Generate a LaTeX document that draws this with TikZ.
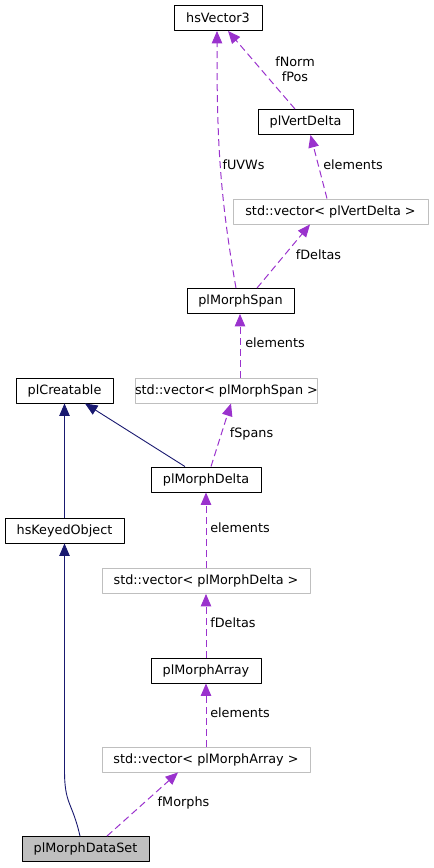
\documentclass[tikz,border=0pt]{standalone}
\usepackage{fontspec}
\setmainfont{DejaVu Sans}
\usetikzlibrary{arrows.meta}
\definecolor{depcol}{HTML}{9A32CD}
\definecolor{inhcol}{HTML}{191970}
\definecolor{vecgray}{HTML}{BFBFBF}

\begin{document}
\begin{tikzpicture}[x=1pt, y=1pt, line join=round,
  font=\fontsize{12.8}{15}\selectfont,
  cls/.style={draw=black, line width=0.9pt, minimum height=25pt, inner sep=0pt},
  vec/.style={draw=vecgray, line width=0.9pt, minimum height=25pt, inner sep=0pt},
  dep/.style={depcol, line width=1pt, dash pattern=on 7pt off 4pt, -{Triangle[length=12.5pt,width=10.5pt]}},
  inh/.style={inhcol, line width=0.9pt, -{Triangle[length=12.5pt,width=10.5pt]}},
  lbl/.style={inner sep=0pt, text height=9pt, text depth=2.5pt}]
  \useasboundingbox (0,0) rectangle (434,-868);

  % Classes
  \node[cls, minimum width=88pt] (hsv) at (218,-18) {hsVector3};
  \node[cls, minimum width=95pt] (pvd) at (305.5,-122) {plVertDelta};
  \node[vec, minimum width=195pt] (vpvd) at (330.5,-211.5) {std::vector< plVertDelta >};
  \node[cls, minimum width=107pt] (mspan) at (240.5,-301) {plMorphSpan};
  \node[vec, minimum width=179pt] (vmspan) at (226.5,-390.5) {std::vector< plMorphSpan >};
  \node[cls, minimum width=97pt] (creat) at (64.5,-390.5) {plCreatable};
  \node[cls, minimum width=110pt] (mdelta) at (206,-479.5) {plMorphDelta};
  \node[cls, minimum width=119pt] (keyed) at (64.5,-530.5) {hsKeyedObject};
  \node[vec, minimum width=208pt] (vmdelta) at (206,-581) {std::vector< plMorphDelta >};
  \node[cls, minimum width=110pt] (marray) at (206,-670.5) {plMorphArray};
  \node[vec, minimum width=208pt] (vmarray) at (206,-759.5) {std::vector< plMorphArray >};
  \node[cls, fill=vecgray, minimum width=127pt] (mdataset) at (85.5,-849) {plMorphDataSet};

  % Inheritance
  \coordinate (kbend) at (64.5,-770);
  \draw[inh] (keyed) -- (creat);
  \draw[inh] ([xshift=-21pt]mdelta.north) -- ([xshift=20.5pt]creat.south);
  \draw[inh] ([xshift=-5.5pt]mdataset.north) .. controls +(-8,35) and +(0,-35) .. (kbend) -- (keyed.south);

  % Usage
  \draw[dep] ([xshift=21.5pt]mdataset.north) -- ([xshift=-28pt]vmarray.south);
  \draw[dep] (vmarray) -- (marray);
  \draw[dep] (marray) -- (vmdelta);
  \draw[dep] (vmdelta) -- (mdelta);
  \draw[dep] ([xshift=5pt]mdelta.north) -- ([xshift=4.5pt]vmspan.south);
  \draw[dep] ([xshift=13.5pt]vmspan.north) -- ([xshift=-0.5pt]mspan.south);
  \draw[dep] ([xshift=16.5pt]mspan.north) -- ([xshift=-20.5pt]vpvd.south);
  \draw[dep] ([xshift=-4.5pt]mspan.north) to[out=100, in=-90] ([xshift=-1pt]hsv.south);
  \draw[dep] ([xshift=-3.5pt]vpvd.north) -- ([xshift=5pt]pvd.south);
  \draw[dep] ([xshift=-10.5pt]pvd.north) -- ([xshift=10pt]hsv.south);

  % Labels
  \node[inner sep=0pt, align=center] (lnormpos) at (295,-69.5) {fNorm\\fPos};
  \node[lbl] (lelem1) at (353,-166) {elements};
  \node[lbl] (luvw) at (243.5,-166) {fUVWs};
  \node[lbl] (ldelta1) at (318.5,-256) {fDeltas};
  \node[lbl] (lelem2) at (275,-344) {elements};
  \node[lbl] (lspans) at (251.5,-434) {fSpans};
  \node[lbl] (lelem3) at (240,-529) {elements};
  \node[lbl] (ldelta2) at (233,-624) {fDeltas};
  \node[lbl] (lelem4) at (240,-714) {elements};
  \node[lbl] (lmorphs) at (183.5,-803) {fMorphs};
\end{tikzpicture}
\end{document}
